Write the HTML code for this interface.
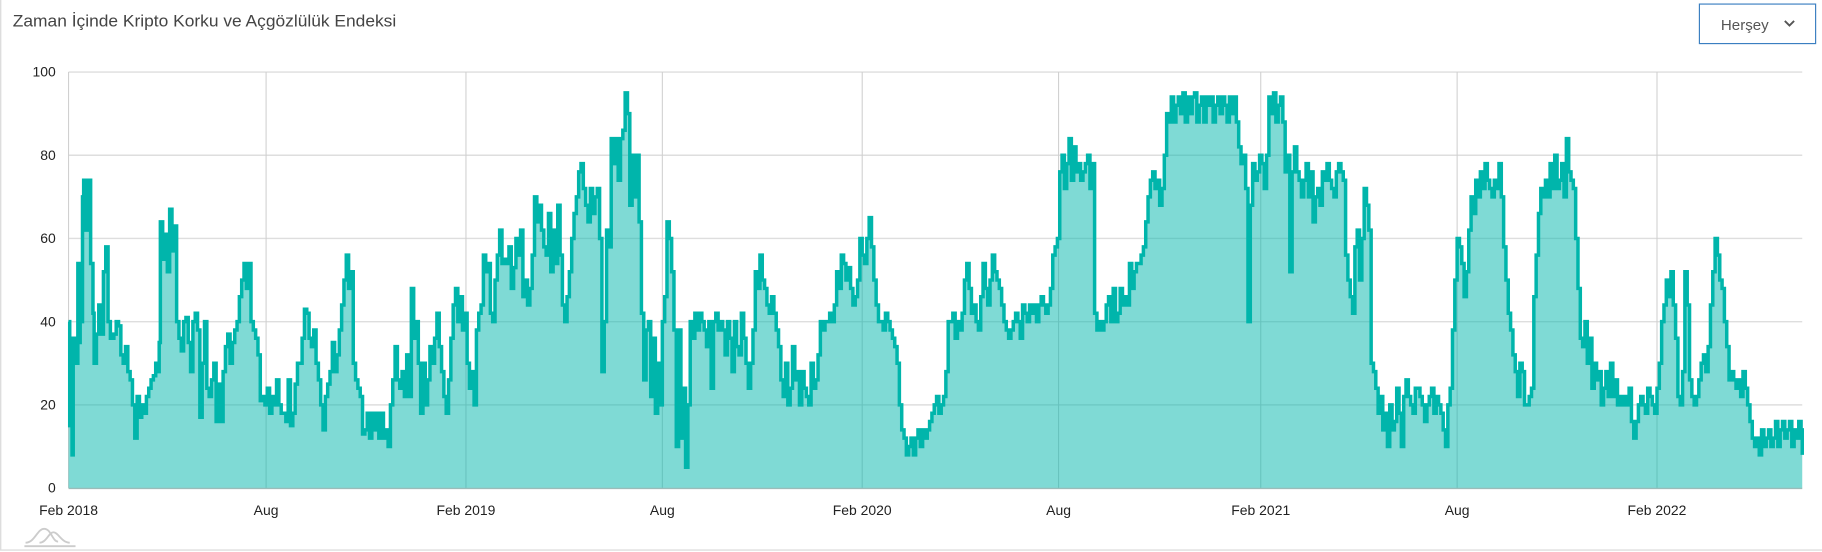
<!DOCTYPE html>
<html><head><meta charset="utf-8"><style>
html,body{margin:0;padding:0;background:#fff;}
svg{display:block;}
text{font-family:"Liberation Sans",sans-serif;}
</style></head><body>
<svg id="s" width="1822" height="552" viewBox="0 0 1568 475" preserveAspectRatio="none" xmlns="http://www.w3.org/2000/svg">
<rect x="0" y="0" width="1568" height="475" fill="#fff"/>
<line x1="0.6" y1="0" x2="0.6" y2="473" stroke="#ddd" stroke-width="1.2"/>
<line x1="0" y1="473.3" x2="1568" y2="473.3" stroke="#ddd" stroke-width="1.2"/>
<text x="11" y="23" font-size="14" fill="#444" textLength="330" lengthAdjust="spacingAndGlyphs">Zaman İçinde Kripto Korku ve Açgözlülük Endeksi</text>
<rect x="1462.5" y="3.5" width="100" height="34" fill="#fff" stroke="#3a7fc1" stroke-width="1"/>
<text x="1481" y="26" font-size="13" fill="#555">Herşey</text>
<polyline points="1536,18 1540,22 1544,18" fill="none" stroke="#555" stroke-width="1.6"/>
<g id="grid" stroke="#dedede" stroke-width="1.2"></g>
<g id="vgrid" stroke="#cfcfcf" stroke-width="0.9"></g>
<path id="area" fill="#00b5ab" fill-opacity="0.5"/>
<path id="line" fill="none" stroke="#00b5ab" stroke-width="3" stroke-linejoin="miter"/>
<line x1="59" y1="420.3" x2="1551" y2="420.3" stroke="#9bbcb9" stroke-width="1.2"/>
<g id="labels" font-size="12" fill="#222"></g>
<g fill="none" stroke="#ccc" stroke-width="1.6">
<path d="M22,467 C30,467 32,455 38,455 C44,455 45,466 50,466"/>
<path d="M34,467 C40,467 42,458 46,458 C50,458 53,467 60,467"/>
<line x1="21" y1="470" x2="65" y2="470"/>
</g>
</svg>
<script>
var NS="http://www.w3.org/2000/svg";
function Y(v){return 420-3.58*v;}
var g=document.getElementById('grid'),vg=document.getElementById('vgrid'),lb=document.getElementById('labels');
for(var v=20;v<=100;v+=20){var l=document.createElementNS(NS,'line');l.setAttribute('x1',59);l.setAttribute('x2',1551);l.setAttribute('y1',Y(v));l.setAttribute('y2',Y(v));g.appendChild(l);}
for(var v=0;v<=100;v+=20){var t=document.createElementNS(NS,'text');t.setAttribute('x',48);t.setAttribute('y',Y(v)+4);t.setAttribute('text-anchor','end');t.textContent=v;lb.appendChild(t);}
var xs=[[59,'Feb 2018'],[229,'Aug'],[401,'Feb 2019'],[570,'Aug'],[742,'Feb 2020'],[911,'Aug'],[1085,'Feb 2021'],[1254,'Aug'],[1426,'Feb 2022']];
xs.forEach(function(a){var l=document.createElementNS(NS,'line');l.setAttribute('x1',a[0]);l.setAttribute('x2',a[0]);l.setAttribute('y1',62);l.setAttribute('y2',420);vg.appendChild(l);
var t=document.createElementNS(NS,'text');t.setAttribute('x',a[0]);t.setAttribute('y',443);t.setAttribute('text-anchor','middle');t.textContent=a[1];lb.appendChild(t);});
var d="40,59 15,60 8,62 36,63 30,65 54,67 35,68 40,69 70,71 74,72 62,74 74,76 54,78 42,80 30,81 37,83 44,85 38,86 37,88 52,89 58,91 40,93 36,95 37,98 40,100 39,102 32,104 30,106 34,108 28,110 26,112 20,114 12,116 22,118 17,120 20,122 18,124 22,126 24,128 26,130 27,132 30,134 28,136 35,137 64,138 55,140 61,142 52,144 67,146 57,148 63,150 40,152 36,154 33,156 40,158 41,160 35,162 28,164 40,166 42,168 38,170 17,172 30,174 40,176 24,178 22,180 26,182 30,184 16,186 25,188 16,190 28,192 34,194 37,196 30,198 35,200 38,202 40,204 46,206 50,208 54,210 48,212 54,214 40,216 38,218 36,220 32,222 21,224 22,226 20,228 24,230 18,232 22,234 20,236 26,238 20,240 18,242 18,244 16,246 26,248 15,250 18,252 25,254 30,256 30,258 36,260 43,262 42,264 36,266 34,268 38,270 30,272 26,274 20,276 14,278 22,280 25,282 28,284 35,286 28,288 32,290 38,292 44,294 50,296 56,298 48,300 52,302 30,304 26,306 24,308 22,310 13,312 14,314 18,316 12,318 18,320 14,322 18,324 12,326 18,328 12,330 14,332 10,334 20,336 26,338 34,340 26,342 24,344 28,346 22,348 32,350 22,352 48,354 36,356 40,358 30,360 18,362 30,364 20,366 26,368 34,370 30,372 36,374 42,376 34,378 28,380 22,382 18,384 26,386 36,388 44,390 48,392 40,394 46,396 38,398 42,400 30,402 24,404 28,406 20,408 38,410 42,412 44,414 56,416 52,418 54,420 42,422 40,424 50,426 56,428 62,430 54,432 55,434 54,436 58,438 48,440 53,442 60,444 56,446 62,448 46,450 50,452 44,454 48,456 56,458 70,460 64,462 68,464 62,466 58,468 56,470 66,472 52,474 62,476 54,478 68,480 56,482 44,484 40,486 46,488 52,490 60,492 66,494 70,496 76,498 78,500 72,502 68,504 64,506 72,508 66,510 70,512 72,514 60,516 28,518 40,520 62,522 58,524 84,526 78,528 84,530 74,532 84,534 86,536 95,538 90,540 68,542 80,544 70,546 80,548 64,550 42,552 26,554 38,556 40,558 22,560 36,562 18,564 30,566 20,568 40,570 46,572 64,574 60,576 52,578 38,580 10,582 38,584 12,586 24,588 5,590 20,592 40,594 36,596 42,598 38,600 42,602 40,604 38,606 34,608 40,610 24,612 40,614 42,616 38,618 40,620 38,622 32,624 40,626 36,628 28,630 40,632 34,634 32,636 42,638 36,640 30,642 24,644 30,646 38,648 52,650 48,652 56,654 50,656 48,658 44,660 42,662 46,664 42,666 38,668 34,670 26,672 22,674 30,676 20,678 24,680 34,682 26,684 28,686 20,688 28,690 24,692 22,694 20,696 30,698 24,700 26,702 32,704 40,706 38,708 40,710 40,712 42,714 40,716 44,718 52,720 48,722 56,724 54,726 50,728 53,730 48,732 44,734 46,736 50,738 60,740 56,742 54,744 60,746 65,748 58,750 50,752 44,754 40,756 40,758 38,760 42,762 40,764 38,766 36,768 34,770 30,772 20,774 14,776 12,778 8,780 10,782 12,784 8,786 12,788 14,790 10,792 14,794 12,796 14,798 16,800 18,802 20,804 22,806 18,808 20,810 22,812 28,814 40,816 40,818 42,820 36,822 40,824 38,826 42,828 50,830 54,832 48,834 42,836 44,838 40,840 38,842 46,844 54,846 48,848 44,850 50,852 56,854 52,856 50,858 48,860 44,862 40,864 38,866 36,868 38,870 40,872 42,874 40,876 36,878 44,880 42,882 40,884 44,886 42,888 44,890 40,892 44,894 46,896 44,898 42,900 44,902 48,904 56,906 58,908 60,910 76,912 80,914 72,916 78,918 84,920 74,922 82,924 76,926 78,928 74,930 76,932 78,934 80,936 72,938 78,940 42,942 38,944 40,946 38,948 40,950 44,952 46,954 40,956 48,958 40,960 42,962 48,964 44,966 46,968 44,970 54,972 48,974 52,976 54,978 54,980 56,982 58,984 64,986 70,988 74,990 76,992 72,994 74,996 68,998 72,1000 80,1002 90,1004 88,1006 94,1008 88,1010 92,1012 94,1014 90,1016 95,1018 88,1020 94,1022 90,1024 94,1026 95,1028 88,1030 92,1032 94,1034 88,1036 94,1038 92,1040 94,1042 88,1044 92,1046 94,1048 90,1050 94,1052 92,1054 88,1056 94,1058 90,1060 94,1062 88,1064 82,1066 78,1068 80,1070 72,1072 40,1074 68,1076 78,1078 74,1080 76,1082 80,1084 78,1086 72,1088 80,1090 94,1092 90,1094 95,1096 88,1098 92,1100 94,1102 88,1104 76,1106 80,1108 52,1110 76,1112 82,1114 76,1116 74,1118 70,1120 74,1122 78,1124 70,1126 76,1128 64,1130 70,1132 72,1134 68,1136 76,1138 74,1140 78,1142 74,1144 72,1146 70,1148 76,1150 78,1152 76,1154 74,1156 56,1158 50,1160 46,1162 42,1164 58,1166 62,1168 50,1170 60,1172 72,1174 68,1176 62,1178 30,1180 28,1182 24,1184 18,1186 22,1188 14,1190 18,1192 10,1194 20,1196 14,1198 16,1200 24,1202 18,1204 10,1206 22,1208 26,1210 22,1212 20,1214 18,1216 24,1218 24,1220 22,1222 20,1224 16,1226 20,1228 22,1230 24,1232 18,1234 22,1236 20,1238 18,1240 14,1242 10,1244 20,1246 24,1248 38,1250 50,1252 60,1254 58,1256 54,1258 46,1260 52,1262 62,1264 70,1266 66,1268 74,1270 70,1272 76,1274 72,1276 78,1278 74,1280 72,1282 70,1284 74,1286 72,1288 78,1290 70,1292 58,1294 50,1296 42,1298 38,1300 32,1302 28,1304 22,1306 30,1308 28,1310 20,1312 20,1314 22,1316 24,1318 46,1320 56,1322 66,1324 72,1326 70,1328 74,1330 70,1332 78,1334 72,1336 80,1338 72,1340 74,1342 78,1344 70,1346 84,1348 76,1350 74,1352 72,1354 60,1356 48,1358 36,1360 34,1362 40,1364 30,1366 36,1368 24,1370 30,1372 26,1374 28,1376 20,1378 24,1380 28,1382 22,1384 30,1386 22,1388 26,1390 20,1392 22,1394 20,1396 22,1398 20,1400 24,1402 16,1404 12,1406 16,1408 20,1410 22,1412 20,1414 18,1416 24,1418 22,1420 20,1422 18,1424 24,1426 30,1428 40,1430 44,1432 50,1434 46,1436 52,1438 44,1440 36,1442 22,1444 20,1446 28,1448 52,1450 44,1452 26,1454 22,1456 20,1458 22,1460 26,1462 30,1464 32,1466 28,1468 34,1470 44,1472 52,1474 60,1476 56,1478 50,1480 48,1482 40,1484 34,1486 26,1488 28,1490 26,1492 24,1494 26,1496 22,1498 28,1500 24,1502 20,1504 16,1506 12,1508 10,1510 12,1512 8,1514 14,1516 10,1518 12,1520 14,1522 10,1524 12,1526 16,1528 10,1530 14,1532 16,1534 12,1536 14,1538 16,1540 10,1542 14,1544 12,1546 16,1548 14,1550 8,1551";
var pts=d.split(' ').map(function(s){var a=s.split(',');return [+a[1],+a[0]];});
var p="M"+pts[0][0]+","+Y(pts[0][1]).toFixed(1);
for(var i=1;i<pts.length;i++){p+="H"+pts[i][0]+"V"+Y(pts[i][1]).toFixed(1);}
document.getElementById('line').setAttribute('d',p);
document.getElementById('area').setAttribute('d',p+"H1551V420H59Z");
</script>
</body></html>
